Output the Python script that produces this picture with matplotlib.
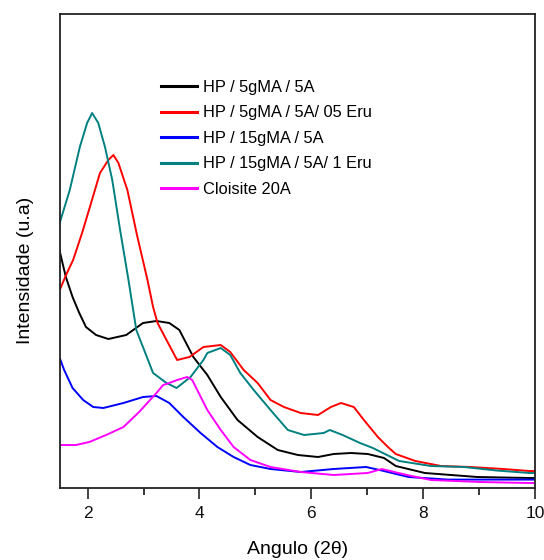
import matplotlib
matplotlib.use("Agg")
import matplotlib.pyplot as plt
from matplotlib import font_manager

def pick_font(names):
    for n in names:
        try:
            font_manager.findfont(n, fallback_to_default=False)
            return n
        except Exception:
            pass
    return "DejaVu Sans"

FONT = pick_font(["Liberation Sans Narrow", "Liberation Sans", "Arial"])

labels = ["HP / 5gMA / 5A", "HP / 5gMA / 5A/ 05 Eru", "HP / 15gMA / 5A",
          "HP / 15gMA / 5A/ 1 Eru", "Cloisite 20A"]
colors = ["#000000", "#FF0000", "#0000FF", "#008080", "#FF00FF"]

black_x = [1.5, 1.55, 1.61, 1.73, 1.85, 1.97, 2.15, 2.37, 2.69, 2.99, 3.23, 3.46, 3.64, 3.89,
           4.14, 4.38, 4.68, 5.04, 5.40, 5.76, 6.12, 6.40, 6.71, 7.01, 7.30, 7.51, 8.03, 8.50,
           8.97, 9.90, 10.0]
black_y = [237, 225, 211, 191, 175, 161, 153, 149, 153, 165, 167, 165, 158, 131,
           113, 91, 68, 51, 38, 33, 31, 34, 35, 34, 30, 22, 15, 13,
           11, 10, 10]

red_x = [1.5, 1.63, 1.74, 1.90, 2.04, 2.22, 2.37, 2.46, 2.55, 2.71, 2.89, 3.07, 3.17, 3.25,
         3.41, 3.60, 3.82, 4.07, 4.38, 4.55, 4.79, 5.04, 5.27, 5.51, 5.81, 6.12, 6.35, 6.53,
         6.76, 6.94, 7.19, 7.37, 7.51, 7.86, 8.32, 8.84, 9.43, 9.90, 10.0]
red_y = [198, 215, 228, 255, 281, 315, 328, 333, 325, 298, 251, 208, 181, 165,
         148, 128, 131, 141, 143, 136, 118, 105, 88, 81, 75, 73, 81, 85,
         81, 68, 51, 41, 34, 27, 22, 21, 19, 17, 17]

blue_x = [1.5, 1.58, 1.73, 1.92, 2.10, 2.28, 2.64, 2.99, 3.23, 3.46, 3.71, 4.02, 4.32, 4.61,
          4.91, 5.27, 5.81, 6.40, 6.98, 7.26, 7.74, 8.44, 9.90, 10.0]
blue_y = [130, 118, 100, 88, 81, 80, 85, 91, 92, 85, 71, 55, 41, 31,
          23, 19, 16, 19, 21, 17.5, 11, 8.4, 8.4, 8.4]

teal_x = [1.5, 1.68, 1.86, 1.99, 2.08, 2.19, 2.31, 2.44, 2.58, 2.73, 2.87, 3.17, 3.41,
          3.59, 3.84, 4.07, 4.14, 4.38, 4.55, 4.73, 4.97, 5.27, 5.58, 5.87, 6.22, 6.33,
          6.56, 6.87, 7.10, 7.57, 8.14, 8.73, 9.31, 9.90, 10.0]
teal_y = [265, 298, 341, 365, 375, 365, 341, 308, 258, 208, 158, 115, 105,
          100, 111, 128, 135, 140, 133, 115, 98, 78, 58, 53, 55, 58,
          53, 45, 40, 27, 22, 21, 17.5, 15, 15]

mag_x = [1.5, 1.79, 2.03, 2.33, 2.64, 2.92, 3.23, 3.35, 3.46, 3.60, 3.78, 3.87, 3.96,
         4.14, 4.38, 4.61, 4.91, 5.27, 5.81, 6.40, 7.01, 7.26, 7.74, 8.14, 9.02, 9.90, 10.0]
mag_y = [43, 43, 46, 53, 61, 76, 95, 103, 105, 108, 111, 108, 98,
         78, 58, 41, 28, 21, 16, 13, 15, 19, 12.6, 8, 6, 5, 5]

series = [(black_x, black_y), (red_x, red_y), (blue_x, blue_y),
          (teal_x, teal_y), (mag_x, mag_y)]

fig = plt.figure(figsize=(5.44, 5.6), dpi=100)
ax = fig.add_axes([59.7 / 544, 72 / 560, (535 - 59.7) / 544, (488 - 14) / 560])

for (xs, ys), lab, c in zip(series, labels, colors):
    ax.plot(xs, ys, color=c, lw=1.4, label=lab)

ax.set_xlim(1.5, 10)
ax.set_ylim(0, 474)
ax.set_xticks([2, 4, 6, 8, 10])
ax.set_xticks([3, 5, 7, 9], minor=True)
ax.set_yticks([])
ax.tick_params(axis="x", which="major", direction="out", length=8, width=1.1,
               labelsize=12.5, pad=5, colors="#111111")
ax.tick_params(axis="x", which="minor", direction="out", length=5, width=1.1)
for lab in ax.get_xticklabels():
    lab.set_fontfamily(FONT)
for s in ax.spines.values():
    s.set_linewidth(1.3)
    s.set_color("#222222")

ax.set_xlabel("Angulo (2θ)", fontsize=14, family=FONT, labelpad=14)
ax.set_ylabel("Intensidade (u.a)", fontsize=14, family=FONT)
ax.yaxis.set_label_coords(-0.055, 0.46)

leg = ax.legend(loc="upper left", bbox_to_anchor=(0.2, 0.875), frameon=False,
                prop={"family": FONT, "size": 11.8}, handlelength=2.2,
                handletextpad=0.35, labelspacing=0.64, borderaxespad=0)
for h in leg.get_lines():
    h.set_linewidth(2.2)

fig.savefig("out.png", dpi=100)
